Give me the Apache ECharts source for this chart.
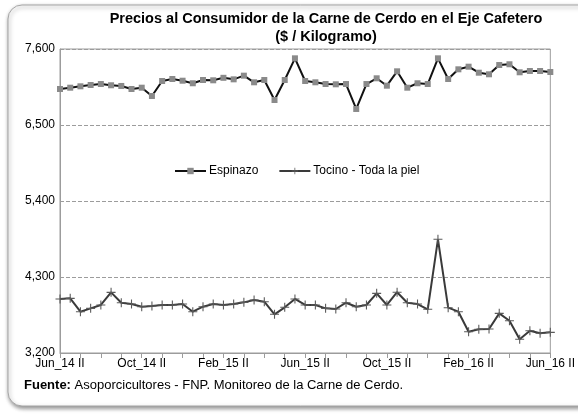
<!DOCTYPE html>
<html>
<head>
<meta charset="utf-8">
<script src="https://cdn.jsdelivr.net/npm/echarts@6/dist/echarts.min.js"></script>
<style>
  html, body { margin: 0; padding: 0; background: #fff; }
  #main { width: 578px; height: 415px; }
</style>
</head>
<body>
<div id="main"></div>
<script>
// quincenas, Jun_14 II .. Jun_16 II
const categories = [
  "Jun_14 II", "Jul_14 I", "Jul_14 II", "Aug_14 I", "Aug_14 II", "Sep_14 I", "Sep_14 II", "Oct_14 I",
  "Oct_14 II", "Nov_14 I", "Nov_14 II", "Dec_14 I", "Dec_14 II", "Jan_15 I", "Jan_15 II", "Feb_15 I",
  "Feb_15 II", "Mar_15 I", "Mar_15 II", "Apr_15 I", "Apr_15 II", "May_15 I", "May_15 II", "Jun_15 I",
  "Jun_15 II", "Jul_15 I", "Jul_15 II", "Aug_15 I", "Aug_15 II", "Sep_15 I", "Sep_15 II", "Oct_15 I",
  "Oct_15 II", "Nov_15 I", "Nov_15 II", "Dec_15 I", "Dec_15 II", "Jan_16 I", "Jan_16 II", "Feb_16 I",
  "Feb_16 II", "Mar_16 I", "Mar_16 II", "Apr_16 I", "Apr_16 II", "May_16 I", "May_16 II", "Jun_16 I",
  "Jun_16 II"
];

const espinazo = [
  7021, 7040, 7060, 7079, 7093, 7075, 7065, 7021, 7040, 6920,
  7137, 7166, 7141, 7104, 7151, 7147, 7183, 7161, 7214, 7118,
  7151, 6862, 7151, 7465, 7137, 7118, 7093, 7089, 7093, 6732,
  7093, 7176, 7069, 7277, 7040, 7104, 7093, 7465, 7166, 7306,
  7344, 7257, 7234, 7368, 7379, 7263, 7282, 7282, 7267
];

const tocino = [
  3982, 3991, 3798, 3846, 3895, 4078, 3928, 3909, 3870, 3880,
  3895, 3895, 3909, 3798, 3870, 3909, 3895, 3909, 3933, 3967,
  3942, 3760, 3861, 3982, 3895, 3895, 3846, 3837, 3928, 3870,
  3895, 4063, 3895, 4080, 3928, 3909, 3832, 4846, 3856, 3798,
  3508, 3543, 3547, 3774, 3667, 3398, 3523, 3485, 3499
];

const yTicks = [3200, 4300, 5400, 6500, 7600];
const BASE = yTicks[0];
const STEP = yTicks[1] - yTicks[0];

const plusSymbol = "path://M4.4,0H5.6V4.4H10V5.6H5.6V10H4.4V5.6H0V4.4H4.4Z";
const FONT = "'Liberation Sans', Arial, sans-serif";

const chart = echarts.init(document.getElementById("main"));

const option = {
  animation: false,
  textStyle: { fontFamily: FONT },
  graphic: [
    {
      type: "rect",
      z: -10,
      shape: { x: 8, y: 5, width: 620, height: 401, r: 14 },
      style: {
        fill: "#fff",
        stroke: "#a6a6a6",
        lineWidth: 1,
        shadowBlur: 4,
        shadowOffsetX: 1,
        shadowOffsetY: 2,
        shadowColor: "rgba(0,0,0,0.45)"
      }
    },
    {
      type: "text",
      style: {
        x: 326,
        y: 10,
        text: "Precios al Consumidor de la Carne de Cerdo en el Eje Cafetero\n($ / Kilogramo)",
        textAlign: "center",
        font: "bold 14.5px " + FONT,
        lineHeight: 18,
        fill: "#000"
      }
    },
    {
      type: "text",
      style: {
        x: 24,
        y: 379,
        text: "{b|Fuente:} Asoporcicultores - FNP. Monitoreo de la Carne de Cerdo.",
        font: "13px " + FONT,
        fill: "#000",
        rich: {
          b: { fontWeight: "bold", fontSize: 13, fontFamily: FONT }
        }
      }
    }
  ],
  legend: {
    top: 160,
    left: 169,
    itemWidth: 31,
    itemHeight: 8,
    itemGap: 20,
    textStyle: { fontSize: 12, color: "#000", fontFamily: FONT, padding: [0, 0, 0, -2] },
    data: ["Espinazo", "Tocino - Toda la piel"]
  },
  grid: {
    left: 60,
    right: 26,
    top: 49,
    bottom: 62,
    show: true,
    borderColor: "#9c9c9c",
    borderWidth: 1
  },
  xAxis: {
    type: "category",
    data: categories,
    boundaryGap: false,
    axisLine: { lineStyle: { color: "#9c9c9c", width: 1 } },
    axisTick: { show: true, interval: 1, length: 5, lineStyle: { color: "#9c9c9c" } },
    axisLabel: { interval: 7, color: "#000", fontSize: 12, margin: 5, fontFamily: FONT },
    splitLine: { show: false }
  },
  yAxis: {
    type: "value",
    min: 0,
    max: yTicks[yTicks.length - 1] - BASE,
    interval: STEP,
    axisLine: { show: true, lineStyle: { color: "#9c9c9c" } },
    axisTick: { show: false },
    axisLabel: {
      color: "#000",
      fontSize: 12,
      margin: 5,
      fontFamily: FONT,
      formatter: v => (v + BASE).toLocaleString("en-US")
    },
    splitLine: { show: true, lineStyle: { color: "#9c9c9c", type: "dashed", width: 1 } }
  },
  series: [
    {
      name: "Espinazo",
      type: "line",
      data: espinazo.map(v => v - BASE),
      symbol: "rect",
      symbolSize: 6,
      showAllSymbol: true,
      itemStyle: { color: "#8a8a8a" },
      lineStyle: { color: "#111", width: 2 },
      z: 3
    },
    {
      name: "Tocino - Toda la piel",
      type: "line",
      data: tocino.map(v => v - BASE),
      symbol: plusSymbol,
      symbolSize: 9,
      showAllSymbol: true,
      itemStyle: { color: "#5a5a5a" },
      lineStyle: { color: "#3a3a3a", width: 2 },
      z: 3
    }
  ]
};

chart.setOption(option);
</script>
</body>
</html>
